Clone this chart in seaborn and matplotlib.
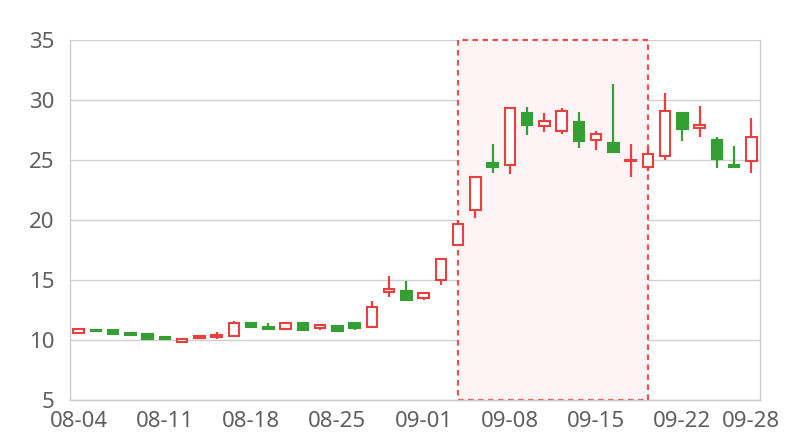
import numpy as np
import pandas as pd
import seaborn as sns
import matplotlib
matplotlib.use('Agg')
import matplotlib.pyplot as plt
from matplotlib.patches import Rectangle

# --- data ---
dates = ["08-04", "08-05", "08-06", "08-07", "08-08",
         "08-11", "08-12", "08-13", "08-14", "08-15",
         "08-18", "08-19", "08-20", "08-21", "08-22",
         "08-25", "08-26", "08-27", "08-28", "08-29",
         "09-01", "09-02", "09-03", "09-04", "09-05",
         "09-08", "09-09", "09-10", "09-11", "09-12",
         "09-15", "09-16", "09-17", "09-18", "09-19",
         "09-22", "09-23", "09-24", "09-25", "09-28"]
open_ = [10.60, 10.82, 10.80, 10.55, 10.50, 10.22, 9.82, 10.20, 10.25, 10.30,
         11.40, 11.05, 10.95, 11.38, 11.00, 11.15, 11.45, 11.08, 14.00, 14.10,
         13.50, 15.00, 17.95, 20.80, 24.75, 24.60, 28.95, 27.80, 27.45, 28.20,
         26.70, 26.45, 24.95, 24.40, 25.30, 28.95, 27.70, 26.65, 24.60, 24.95]
close = [10.90, 10.75, 10.50, 10.38, 10.12, 10.05, 10.12, 10.35, 10.40, 11.40,
         11.10, 10.92, 11.45, 10.85, 11.22, 10.78, 11.00, 12.75, 14.25, 13.35,
         13.95, 16.75, 19.65, 23.55, 24.42, 29.30, 27.95, 28.25, 29.05, 26.60,
         27.20, 25.65, 25.00, 25.50, 29.05, 27.55, 27.95, 25.10, 24.40, 26.95]
high = [10.95, 10.90, 10.80, 10.65, 10.50, 10.25, 10.14, 10.40, 10.65, 11.60,
        11.44, 11.40, 11.50, 11.40, 11.35, 11.17, 11.47, 13.25, 15.30, 14.90,
        13.97, 16.80, 20.00, 23.56, 26.30, 29.35, 29.45, 28.95, 29.35, 29.00,
        27.45, 31.35, 26.35, 26.00, 30.55, 28.97, 29.50, 26.95, 26.15, 28.50]
low = [10.55, 10.70, 10.47, 10.35, 10.10, 10.03, 9.80, 10.05, 10.05, 10.28,
       11.06, 10.89, 10.90, 10.83, 10.80, 10.70, 10.85, 11.05, 13.60, 13.33,
       13.30, 14.55, 17.80, 20.15, 23.90, 23.85, 27.05, 27.35, 27.15, 26.00,
       25.80, 25.65, 23.60, 24.10, 25.00, 26.55, 26.95, 24.35, 24.40, 23.90]
tick_dates = ["08-04", "08-11", "08-18", "08-25", "09-01",
              "09-08", "09-15", "09-22", "09-28"]
area_start, area_end = "09-03", "09-18"

df = pd.DataFrame({"date": dates, "open": open_, "close": close,
                   "high": high, "low": low})
df["x"] = np.arange(len(df))
df["up"] = df["close"] >= df["open"]

RED = "#e8403f"
GREEN = "#34a034"

sns.set_style("white")
plt.rcParams['font.family'] = ['Noto Sans', 'DejaVu Sans']

fig, ax = plt.subplots(figsize=(8, 4.4), dpi=100)
fig.subplots_adjust(left=0.0875, right=0.95, bottom=0.0909, top=0.909)

# highlighted period
xs = df.loc[df["date"] == area_start, "x"].iloc[0]
xe = df.loc[df["date"] == area_end, "x"].iloc[0]
ax.add_patch(Rectangle((xs, 5), xe - xs, 30, facecolor="#fff4f5",
                       edgecolor="#ef5050", linestyle=(0, (2.5, 2)),
                       linewidth=1.6, zorder=1, clip_on=False))

# grid
for y in range(5, 36, 5):
    ax.axhline(y, color="#d0d0d0", linewidth=1, zorder=0.5)

# candles
colors = np.where(df["up"], RED, GREEN)
ax.vlines(df["x"], df["low"], df["high"], colors=colors, linewidth=1.6, zorder=2)
bottom = np.minimum(df["open"], df["close"])
height = np.maximum((df["close"] - df["open"]).abs(), 0.08)
faces = np.where(df["up"], "white", GREEN)
ax.bar(df["x"], height, bottom=bottom, width=0.6, color=faces,
       edgecolor=colors, linewidth=1.5, zorder=3)

ax.set_xlim(-0.5, len(df) - 0.5)
ax.set_ylim(5, 35)
ax.set_yticks(range(5, 36, 5))
tick_pos = [dates.index(d) for d in tick_dates]
ax.set_xticks(tick_pos)
ax.set_xticklabels(tick_dates)
ax.tick_params(axis="both", length=0, labelsize=16, colors="#5f5f5f")
ax.tick_params(axis="y", pad=11)
ax.tick_params(axis="x", pad=8)
for s in ax.spines.values():
    s.set_color("#cccccc")
    s.set_linewidth(1)
    s.set_visible(True)
ax.spines["top"].set_visible(False)

plt.savefig("out.png", dpi=100)
plt.close()
